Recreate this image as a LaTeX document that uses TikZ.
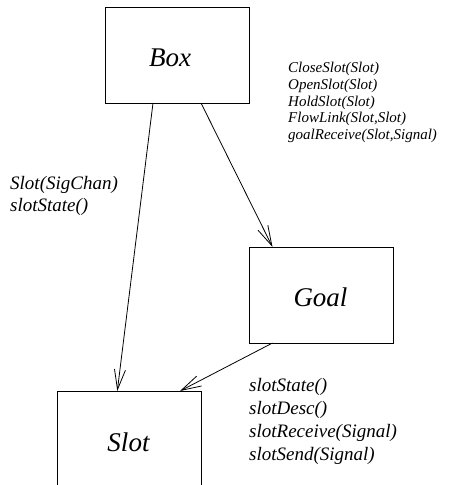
\documentclass[tikz,border=0pt]{standalone}
\usepackage{fontspec}
\setmainfont{Liberation Serif}
\usetikzlibrary{arrows.meta}
\begin{document}
\begin{tikzpicture}[x=1pt,y=-1pt,
  classbox/.style={draw,line width=0.8pt,inner sep=0pt,anchor=north west},
  classname/.style={font=\fontsize{27}{30}\selectfont\itshape,inner sep=0pt,anchor=base},
  link/.style={line width=0.8pt,-{Straight Barb[length=20pt,width=11pt,line width=0.8pt]}},
  ops/.style={font=\itshape,inner sep=0pt,anchor=base west}
]
\useasboundingbox (0,0) rectangle (476,485);
% class rectangles
\node[classbox,minimum width=144pt,minimum height=96pt] (box) at (105,7) {};
\node[classbox,minimum width=144pt,minimum height=96pt] (goal) at (249,247) {};
\node[classbox,minimum width=144pt,minimum height=110pt] (slot) at (57,391) {};
\node[classname] at (170,66.7) {Box};
\node[classname] at (320.5,306.7) {Goal};
\node[classname] at (128.5,451.7) {Slot};
% associations
\coordinate (boxA) at (153,103);
\coordinate (boxB) at (201,103);
\coordinate (goalA) at (272.5,343);
\coordinate (slotA) at (117.3,391);
\coordinate (slotB) at (180,391);
\coordinate (goalT) at (272.5,247);
\draw[link] (boxA) -- (slotA);
\draw[link] (boxB) -- (goalT);
\draw[link] (goalA) -- (slotB);
% operation lists
\begin{scope}[ops/.append style={font=\fontsize{15}{16}\selectfont\itshape}]
\node[ops] (b1) at (288,72.7) {CloseSlot(Slot)};
\node[ops] (b2) at (288,89.3) {OpenSlot(Slot)};
\node[ops] (b3) at (288,106) {HoldSlot(Slot)};
\node[ops] (b4) at (288,122.7) {FlowLink(Slot,Slot)};
\node[ops] (b5) at (288,139.3) {goalReceive(Slot,Signal)};
\end{scope}
\begin{scope}[ops/.append style={font=\fontsize{19}{22}\selectfont\itshape}]
\node[ops] (l1) at (10,189.3) {Slot(SigChan)};
\node[ops] (l2) at (10,211.3) {slotState()};
\node[ops] (s1) at (249,391.7) {slotState()};
\node[ops] (s2) at (249,414.7) {slotDesc()};
\node[ops] (s3) at (249,437.7) {slotReceive(Signal)};
\node[ops] (s4) at (249,460.7) {slotSend(Signal)};
\end{scope}
\end{tikzpicture}
\end{document}
